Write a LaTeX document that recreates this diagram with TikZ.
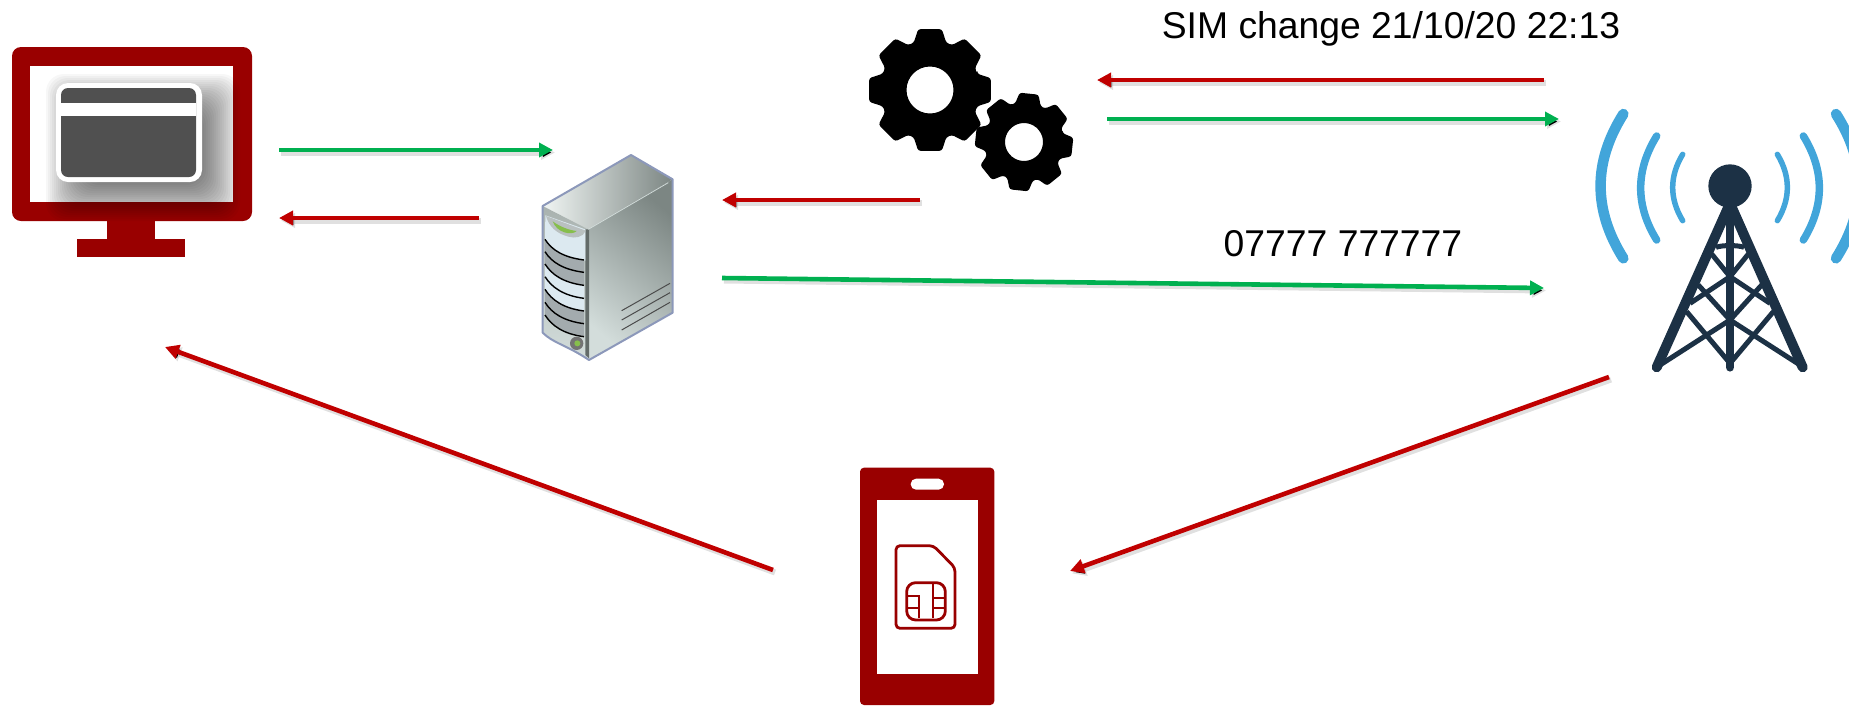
\documentclass[tikz,border=0pt]{standalone}
\usepackage{fontspec}
\setmainfont{Liberation Sans}
\usetikzlibrary{arrows.meta}
\definecolor{mred}{HTML}{990000}
\definecolor{ared}{HTML}{C00000}
\definecolor{agreen}{HTML}{00B050}
\definecolor{card}{HTML}{505050}
\definecolor{tower}{HTML}{1C3145}
\definecolor{wave}{HTML}{42A5DA}
\definecolor{srvedge}{HTML}{8C98BA}
\definecolor{srvlight}{HTML}{F0F5F3}
\definecolor{srvmid}{HTML}{A9B2AF}
\definecolor{srvdark}{HTML}{7C8683}
\definecolor{srvpale}{HTML}{D3DDDB}
\definecolor{srvice}{HTML}{DCE9F0}
\definecolor{srvband}{HTML}{A3ABAE}
\definecolor{srvlens}{HTML}{86BE4C}
\definecolor{srvsilver}{HTML}{B9C0C0}
\tikzset{
  link/.style={line width=4.6pt,-{Triangle[length=14pt,width=14pt]},
    preaction={draw=black,draw opacity=.12,line width=6pt,
      transform canvas={xshift=2pt,yshift=-2.5pt}}},
  redlink/.style={link,draw=ared},
  greenlink/.style={link,draw=agreen},
  label/.style={font=\fontsize{37.3}{40}\selectfont,text=black,inner sep=0pt},
  leg/.style={draw=tower,line width=10pt,line cap=round},
  brace/.style={draw=tower,line width=5pt},
  simline/.style={draw=mred,line width=2.8pt},
  chipline/.style={draw=mred,line width=2.3pt},
  slat/.style={draw=black,line width=1.4pt}
}
\newcommand{\gearicon}[6]{%
  \begin{scope}[shift={(#1,#2)},rotate=#6]
  \fill[black,even odd rule,rounded corners=2.5pt]
    (-19:#4) \foreach \a in {0,45,...,315} {
      -- (\a-19:#4) -- (\a-11:#3) -- (\a+11:#3) -- (\a+19:#4)
    } -- cycle
    (0,0) circle[radius=#5];
  \end{scope}}
\begin{document}
\begin{tikzpicture}[x=1pt,y=-1pt]
\useasboundingbox (0,0) rectangle (1849,705);
\clip (0,0) rectangle (1849,705);

% ---- monitor
\fill[mred,rounded corners=9pt] (12,47) rectangle (252,221);
\fill[white] (30,66) rectangle (233,202);
\fill[mred] (107,221) rectangle (155,239);
\fill[mred] (77,239) rectangle (185,257);
\foreach \i in {-20,-18,...,24}
  \fill[black,opacity=.032,rounded corners=18pt]
    ({70-\i},{98-\i}) rectangle ({216+\i},{197+\i});
\fill[white,rounded corners=12pt] (56,83) rectangle (202,182);
\fill[card,rounded corners=7pt] (61,88) rectangle (196,177);
\fill[white] (61,103) rectangle (196,116);

% ---- server
\begin{scope}[shift={(520,140)},scale=1/3]
  \shade[left color=srvlight,right color=srvdark]
    (68,198) -- (333,45) -- (458,118) -- (205,268) -- cycle;
  \shade[top color=srvdark,bottom color=srvpale,shading angle=-40]
    (205,268) -- (458,118) -- (458,518) -- (207,660) -- cycle;
  \shade[top color=srvmid,bottom color=srvpale]
    (68,198) -- (205,268) -- (207,660) .. controls (140,615) and (100,610) .. (68,578) -- cycle;
  \fill[srvdark!80!black] (196,268) -- (207,268) -- (207,655) -- (196,645) -- cycle;
  \fill[srvice] (76,226) -- (196,268) -- (196,362)
     .. controls (130,352) and (95,330) .. (75,298) -- cycle;
  \fill[srvband] (75,298) .. controls (95,330) and (130,352) .. (192,360)
     -- (192,436) .. controls (130,428) and (95,405) .. (75,372) -- cycle;
  \fill[srvice] (75,372) .. controls (95,405) and (130,428) .. (192,436)
     -- (192,513) .. controls (130,505) and (95,482) .. (75,448) -- cycle;
  \fill[srvband] (75,448) .. controls (95,482) and (130,505) .. (192,513)
     -- (192,590) .. controls (130,582) and (95,558) .. (75,525) -- cycle;
  \foreach \yl/\yr in {298/360,335/397,372/436,410/475,448/513,487/551,525/590}
    \draw[slat] (75,\yl) .. controls (95,\yl+32) and (130,\yr-8) .. (192,\yr);
  \fill[srvsilver] (78,228) -- (197,272) .. controls (190,292) and (165,296) .. (145,290)
     .. controls (110,280) and (88,262) .. cycle;
  \fill[srvlens] (98,244) .. controls (120,260) and (145,270) .. (170,273)
     .. controls (155,288) and (110,278) .. cycle;
  \draw[srvedge,line width=2pt,line join=round]
    (68,198) -- (333,45) -- (458,118) -- (458,518) -- (207,660)
    .. controls (140,615) and (100,610) .. (68,578) -- cycle;
  \draw[srvpale,line width=.7pt] (205,268) -- (445,128);
  \foreach \a/\b in {512/430,540/458,570/487}
    \draw[black!70,line width=1pt] (305,\a) -- (450,\b);
  \fill[black!55] (170,610) circle[radius=20];
  \fill[srvlens] (172,610) circle[radius=9];
\end{scope}

% ---- gears
\gearicon{930}{90}{62}{50}{23.5}{0}
\gearicon{1024}{142}{49.5}{39.5}{19}{-6}

% ---- tower
\begin{scope}[shift={(1580,90)},scale=1/3]
  \draw[wave,line width=10.5pt,line cap=round] (130,72) .. controls (39,216) and (39,360) .. (130,505);
  \draw[wave,line width=7.5pt,line cap=round] (230,138) .. controls (166,242) and (166,346) .. (230,450);
  \draw[wave,line width=5.5pt,line cap=round] (308,193) .. controls (268,259) and (268,326) .. (308,392);
  \draw[wave,line width=5.5pt,line cap=round] (592,193) .. controls (632,259) and (632,326) .. (592,392);
  \draw[wave,line width=7.5pt,line cap=round] (670,138) .. controls (734,242) and (734,346) .. (670,450);
  \draw[wave,line width=10.5pt,line cap=round] (768,72) .. controls (860,216) and (860,360) .. (768,505);
  \fill[tower] (450,288) circle[radius=65];
  \draw[leg] (450,340) -- (230,832);
  \draw[leg] (450,340) -- (668,832);
  \draw[leg,line width=8.5pt] (450,340) -- (450,832);
  \draw[brace] (408,472) .. controls (425,465) and (475,465) .. (492,472);
  \draw[brace] (395,492) -- (450,560) -- (330,640);
  \draw[brace] (505,492) -- (450,560) -- (570,640);
  \draw[brace] (355,585) -- (450,690) -- (240,825);
  \draw[brace] (545,585) -- (450,690) -- (660,825);
  \draw[brace] (320,665) -- (450,820);
  \draw[brace] (580,665) -- (450,820);
\end{scope}

% ---- phone
\begin{scope}[shift={(840,455)},scale=1/3]
  \fill[mred,rounded corners=4pt] (60,38) rectangle (463,750);
  \fill[white] (110,136) rectangle (413,658);
  \fill[white,rounded corners=5.4pt] (212,71) rectangle (312,104);
  \draw[simline,rounded corners=4pt,line join=round]
    (168,272) -- (280,272) -- (345,338) -- (345,520) -- (168,520) -- cycle;
  \draw[simline,rounded corners=9pt] (200,383) rectangle (316,495);
  \draw[chipline] (203,423) -- (238,423) -- (238,490);
  \draw[chipline] (203,460) -- (238,460);
  \draw[chipline] (278,385) -- (278,490);
  \draw[chipline] (278,430) -- (314,430);
  \draw[chipline] (278,458) -- (314,458);
\end{scope}

% ---- labels
\node[label] (simchange) at (1391,29) {SIM change 21/10/20 22:13};
\node[label] (number) at (1343,244) {07777 777777};

% ---- connector ends
\coordinate (g1a) at (279,150); \coordinate (g1b) at (553,150);
\coordinate (r1a) at (479,218); \coordinate (r1b) at (279,218);
\coordinate (r2a) at (920,200); \coordinate (r2b) at (722,200);
\coordinate (g2a) at (722,278); \coordinate (g2b) at (1544,288);
\coordinate (r3a) at (1544,80); \coordinate (r3b) at (1097,80);
\coordinate (g3a) at (1107,119); \coordinate (g3b) at (1559,119);
\coordinate (r4a) at (1609,377); \coordinate (r4b) at (1070,571);
\coordinate (r5a) at (773,570); \coordinate (r5b) at (165,347);

\draw[greenlink] (g1a) -- (g1b);
\draw[redlink] (r1a) -- (r1b);
\draw[redlink] (r2a) -- (r2b);
\draw[greenlink] (g2a) -- (g2b);
\draw[redlink] (r3a) -- (r3b);
\draw[greenlink] (g3a) -- (g3b);
\draw[redlink] (r4a) -- (r4b);
\draw[redlink] (r5a) -- (r5b);
\end{tikzpicture}
\end{document}
